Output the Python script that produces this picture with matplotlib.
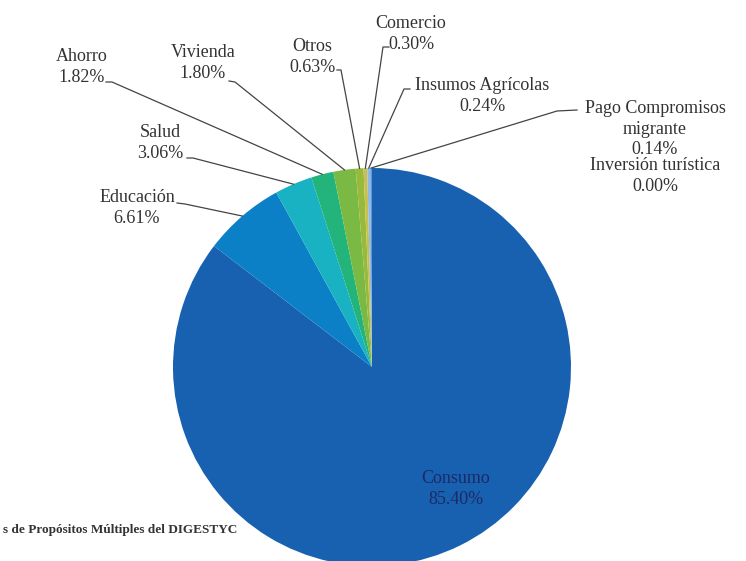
import numpy as np
import matplotlib.pyplot as plt

# Destino de las remesas (%)
categorias = ['Consumo', 'Educación', 'Salud', 'Ahorro', 'Vivienda', 'Otros',
              'Comercio', 'Insumos Agrícolas', 'Pago Compromisos\nmigrante',
              'Inversión turística']
porcentajes = [85.40, 6.61, 3.06, 1.82, 1.80, 0.63, 0.30, 0.24, 0.14, 0.00]
colores = ['#1761b0', '#0b80c6', '#18b2c2', '#23b47b', '#7ab943', '#97ba3c',
           '#c8c04a', '#8fb8e6', '#5e98d6', '#3a6fb8']

W, H = 746, 561
fig = plt.figure(figsize=(W / 100, H / 100), dpi=100)
ax = fig.add_axes([0, 0, 1, 1])

cx, cy, r = 372, H - 367, 199
wedges, _ = ax.pie(porcentajes, colors=colores, startangle=90, counterclock=False,
                   center=(cx, cy), radius=r, wedgeprops=dict(linewidth=0))
ax.set_xlim(0, W)
ax.set_ylim(0, H)
ax.set_aspect('equal')
ax.axis('off')

serif = 'Liberation Serif'
txt = '#333333'
fs = 13
ls = 1.3

# texto (centro, y en píxeles desde arriba) y quiebre de la línea guía
etiquetas = {
    'Educación': ((137, 208), [(177, 203), (185, 204)]),
    'Salud': ((160, 143), [(187, 158), (193, 158)]),
    'Ahorro': ((82, 67), [(106, 82), (112, 82)]),
    'Vivienda': ((203, 63), [(229, 81), (235, 82)]),
    'Otros': ((312, 57), [(337, 70), (341, 70)]),
    'Comercio': ((411, 34), [(389, 47), (383, 47)]),
    'Insumos Agrícolas': ((482, 96), [(410, 89), (404, 89)]),
    'Pago Compromisos\nmigrante': ((655, 129), [(577, 110), (557, 111)]),
    'Inversión turística': ((655, 176), None),
}

for w, cat, val in zip(wedges, categorias, porcentajes):
    texto = f'{cat}\n{val:.2f}%'
    if cat == 'Consumo':
        ax.text(456, H - 489, texto, ha='center', va='center', fontsize=fs,
                family=serif, color='#1b2a66', linespacing=ls)
        continue
    (tx, ty), guia = etiquetas[cat]
    ax.text(tx, H - ty, texto, ha='center', va='center', fontsize=fs,
            family=serif, color=txt, linespacing=ls)
    if guia:
        ang = np.deg2rad((w.theta1 + w.theta2) / 2)
        px, py = cx + r * np.cos(ang), cy + r * np.sin(ang)
        xs = [p[0] for p in guia] + [px]
        ys = [H - p[1] for p in guia] + [py]
        ax.plot(xs, ys, color='#444444', lw=0.9)

ax.text(3, H - 530, 's de Propósitos Múltiples del DIGESTYC', ha='left', va='center',
        fontsize=9.5, family=serif, weight='bold', color='#333333')

fig.savefig('out.png', dpi=100)
